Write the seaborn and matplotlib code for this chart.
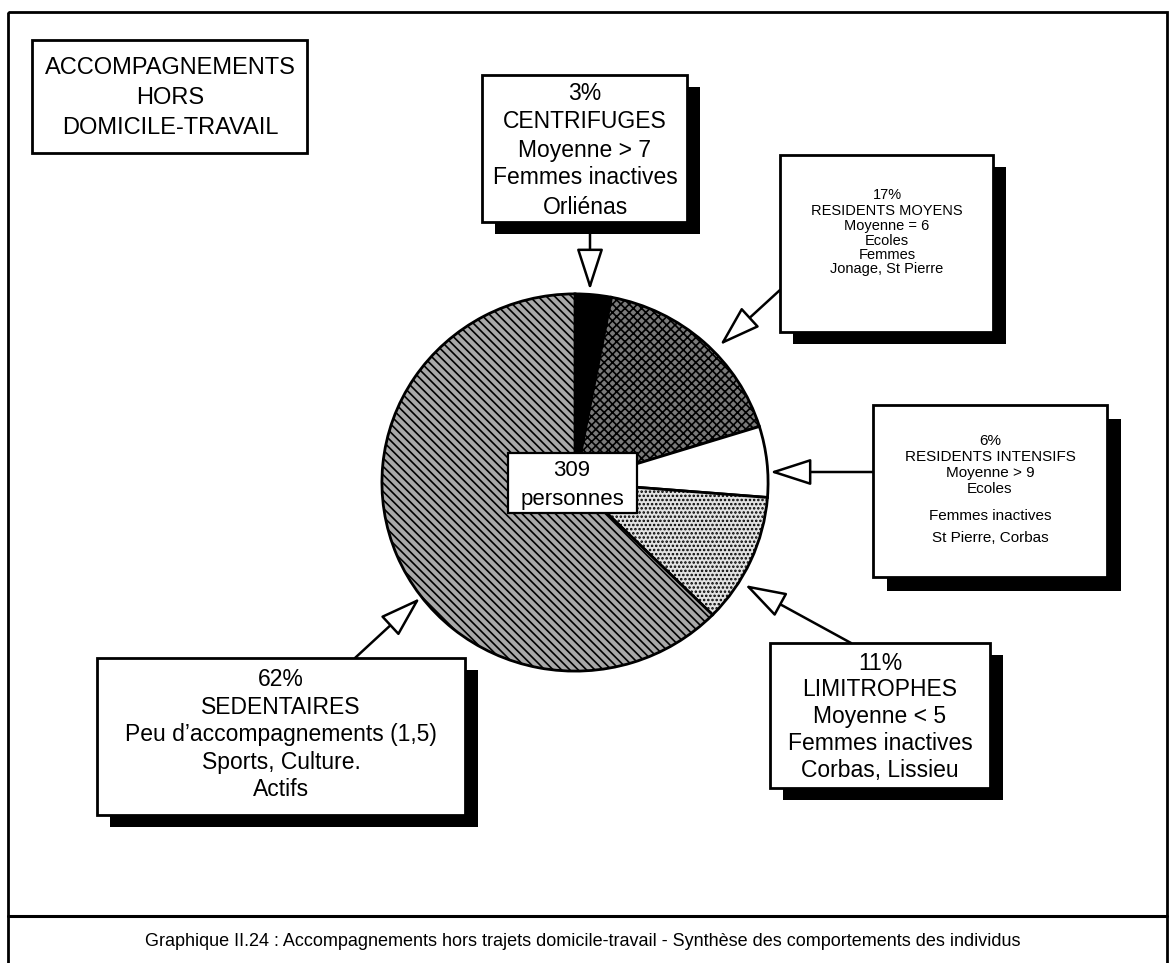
import matplotlib
matplotlib.use("Agg")
import matplotlib.pyplot as plt
from matplotlib.patches import Rectangle
import seaborn as sns

# ---------------- data ----------------
segments = ["CENTRIFUGES", "RESIDENTS MOYENS", "RESIDENTS INTENSIFS",
            "LIMITROPHES", "SEDENTAIRES"]
shares = [3, 17, 6, 11, 62]
total_label = ["309", "personnes"]

title_lines = ["ACCOMPAGNEMENTS", "HORS", "DOMICILE-TRAVAIL"]
centrifuges_lines = ["3%", "CENTRIFUGES", "Moyenne > 7", "Femmes inactives", "Orliénas"]
moyens_lines = ["17%", "RESIDENTS MOYENS", "Moyenne = 6", "Ecoles", "Femmes",
                "Jonage, St Pierre"]
intensifs_lines = ["6%", "RESIDENTS INTENSIFS", "Moyenne > 9", "Ecoles",
                   "Femmes inactives", "St Pierre, Corbas"]
limitrophes_lines = ["11%", "LIMITROPHES", "Moyenne < 5", "Femmes inactives",
                     "Corbas, Lissieu"]
sedentaires_lines = ["62%", "SEDENTAIRES", "Peu d\u2019accompagnements (1,5)",
                     "Sports, Culture.", "Actifs"]
caption = ("Graphique II.24 : Accompagnements hors trajets domicile-travail - "
           "Synthèse des comportements des individus")

# ---------------- style ----------------
sns.set_theme(style="white")
plt.rcParams["font.family"] = ["Liberation Sans", "DejaVu Sans"]
plt.rcParams["text.color"] = "black"
plt.rcParams["hatch.linewidth"] = 1.2

W, H = 1171, 963
fig = plt.figure(figsize=(W / 100, H / 100), dpi=100)
fig.patch.set_facecolor("white")

# ---------------- pie ----------------
pie_box = (380, 292, 770, 673)  # left, top, right, bottom in pixels
ax_pie = fig.add_axes([pie_box[0] / W, 1 - pie_box[3] / H,
                       (pie_box[2] - pie_box[0]) / W, (pie_box[3] - pie_box[1]) / H])
face = ["#000000", "#7a7a7a", "#ffffff", "#e2e2e2", "#a8a8a8"]
hatches = [None, "xxxx", None, "....", "\\\\\\\\"]
wedges, _ = ax_pie.pie(shares, startangle=90, counterclock=False, colors=face,
                       wedgeprops=dict(edgecolor="black", linewidth=2.0))
for w, h in zip(wedges, hatches):
    if h:
        w.set_hatch(h)
ax_pie.set_aspect("auto")
ax_pie.set_xlim(-1.01, 1.01)
ax_pie.set_ylim(-1.01, 1.01)
ax_pie.axis("off")

# ---------------- overlay ----------------
ax = fig.add_axes([0, 0, 1, 1])
ax.set_xlim(0, W)
ax.set_ylim(H, 0)
ax.axis("off")

# outer frame + separator
ax.add_patch(Rectangle((8, 12), 1159, 970, facecolor="none", edgecolor="black",
                       lw=2.0, zorder=1))
ax.plot([8, 1167], [916, 916], color="black", lw=2.2, zorder=1)
ax.text(583, 942, caption, ha="center", va="center", fontsize=13, zorder=4)


def box(x0, y0, x1, y1, shadow=(13, 12), lw=2.0):
    if shadow:
        ax.add_patch(Rectangle((x0 + shadow[0], y0 + shadow[1]), x1 - x0, y1 - y0,
                               facecolor="black", edgecolor="none", zorder=2))
    ax.add_patch(Rectangle((x0, y0), x1 - x0, y1 - y0, facecolor="white",
                           edgecolor="black", lw=lw, zorder=3))


def lines_at(cx, ys, lines, fs):
    for y, t in zip(ys, lines):
        ax.text(cx, y, t, ha="center", va="center", fontsize=fs, zorder=4)


def arrow(start, tip):
    ax.annotate("", xy=tip, xytext=start, zorder=1,
                arrowprops=dict(arrowstyle="-|>,head_length=1.3,head_width=0.42",
                                mutation_scale=20, facecolor="white",
                                edgecolor="black", lw=1.8, shrinkA=0, shrinkB=0))


# title box
box(32, 40, 307, 153, shadow=None)
lines_at(170, [68, 98, 128], title_lines, 17)

# centrifuges
arrow((590, 222), (590, 290))
box(482, 75, 687, 222)
lines_at(585, [93, 122, 150, 178, 207], centrifuges_lines, 16.5)

# residents moyens
arrow((780, 290), (720, 345))
box(780, 155, 993, 332)
lines_at(887, [195, 211, 226, 241, 255, 269], moyens_lines, 10.5)

# residents intensifs
arrow((873, 472), (770, 472))
box(873, 405, 1107, 577, shadow=(14, 14))
lines_at(990, [441, 457, 473, 489, 516, 538], intensifs_lines, 11)

# limitrophes
arrow((851, 643), (745, 585))
box(770, 643, 990, 788)
lines_at(880, [663, 690, 717, 744, 771], limitrophes_lines, 16.5)

# sedentaires
arrow((355, 658), (420, 598))
box(97, 658, 465, 815)
lines_at(281, [680, 708, 735, 762, 790], sedentaires_lines, 16.5)

# center label
box(508, 453, 637, 513, shadow=None, lw=1.6)
lines_at(572, [470, 499], total_label, 16)

fig.savefig("out.png", dpi=100, facecolor="white")
